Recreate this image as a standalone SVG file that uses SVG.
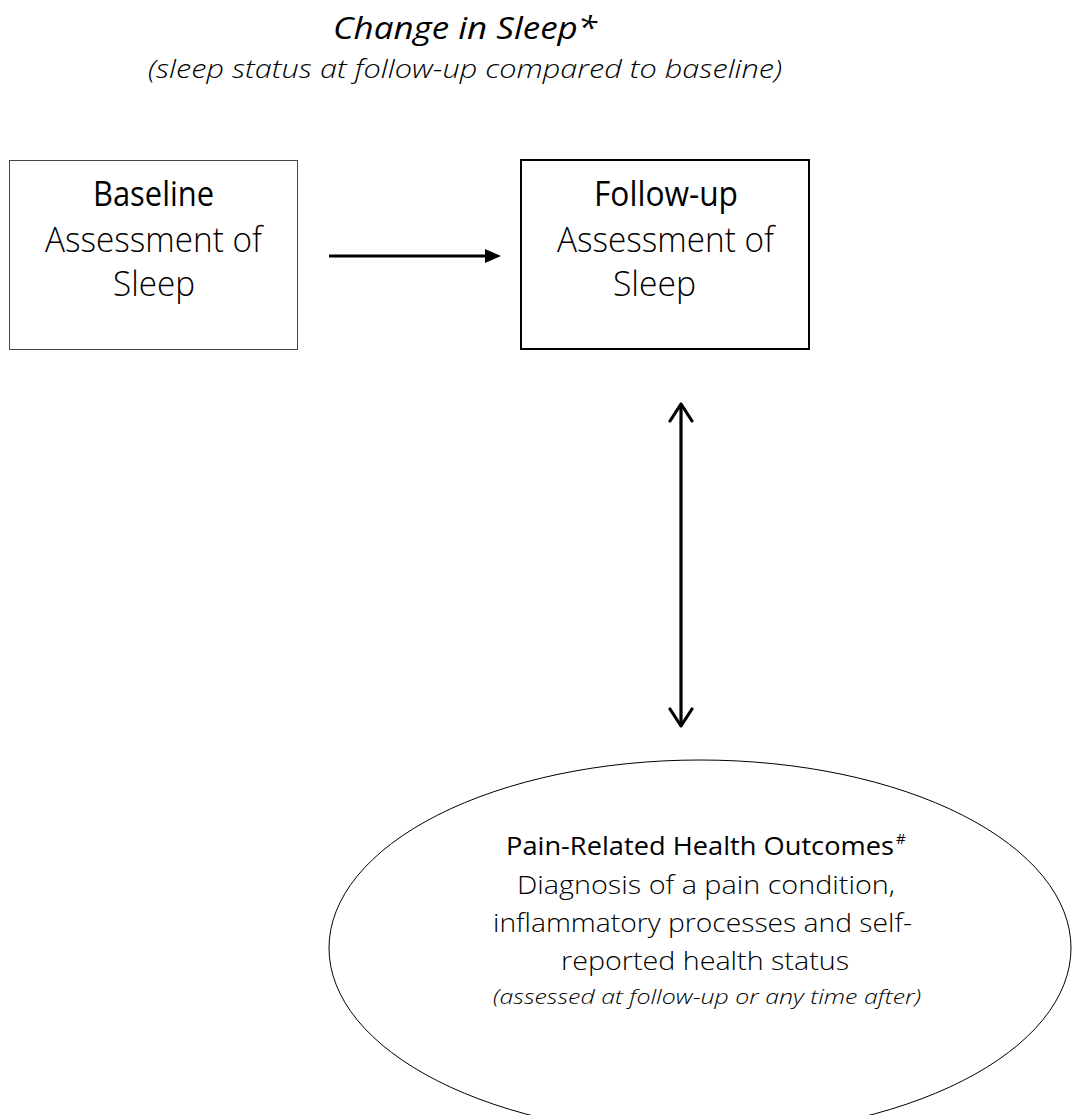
<svg xmlns="http://www.w3.org/2000/svg" width="1072" height="1115" viewBox="0 0 1072 1115">
<style>
  text { font-family: "Open Sans", "Liberation Sans", sans-serif; fill: #000; }
  .reg { font-weight: 400; }
  .light { font-weight: 300; }
  .it { font-style: italic; font-weight: 300; }
  .itreg { font-style: italic; font-weight: 400; }
  .box { font-size: 34px; }
  .ell { font-size: 26px; }
  .conn { stroke: #000; fill: none; }
</style>
<defs>
  <marker id="tri" viewBox="0 0 16 14" refX="1" refY="7" markerWidth="16" markerHeight="14" markerUnits="userSpaceOnUse" orient="auto">
    <path d="M0,0 L16,7 L0,14 Z" fill="#000"/>
  </marker>
  <marker id="chev" viewBox="0 0 26 26" refX="20" refY="13" markerWidth="26" markerHeight="26" markerUnits="userSpaceOnUse" orient="auto-start-reverse">
    <path d="M3,2 L20,13 L3,24" fill="none" stroke="#000" stroke-width="3.2" stroke-linecap="round" stroke-linejoin="round"/>
  </marker>
</defs>

<g id="title">
  <text class="itreg" x="333" y="39" font-size="31" textLength="264" lengthAdjust="spacingAndGlyphs">Change in Sleep*</text>
  <text class="it" x="148" y="78" font-size="25" textLength="634" lengthAdjust="spacingAndGlyphs">(sleep status at follow-up compared to baseline)</text>
</g>

<g id="baseline">
  <rect x="9.5" y="160.5" width="288" height="189" fill="#fff" stroke="#444" stroke-width="1"/>
  <text class="reg box" x="93" y="206" textLength="121" lengthAdjust="spacingAndGlyphs">Baseline</text>
  <text class="light box" x="45" y="252" textLength="217" lengthAdjust="spacingAndGlyphs">Assessment of</text>
  <text class="light box" x="113" y="296" textLength="82" lengthAdjust="spacingAndGlyphs">Sleep</text>
</g>

<g id="followup">
  <rect x="521" y="160" width="288" height="189" fill="#fff" stroke="#000" stroke-width="2"/>
  <text class="reg box" x="594" y="206" textLength="144" lengthAdjust="spacingAndGlyphs">Follow-up</text>
  <text class="light box" x="557" y="252" textLength="217" lengthAdjust="spacingAndGlyphs">Assessment of</text>
  <text class="light box" x="613" y="296" textLength="83" lengthAdjust="spacingAndGlyphs">Sleep</text>
</g>

<g id="outcomes">
  <ellipse cx="700" cy="948" rx="371" ry="188" fill="#fff" stroke="#000" stroke-width="1"/>
  <text class="reg" x="506" y="855" font-size="25" textLength="388" lengthAdjust="spacingAndGlyphs">Pain-Related Health Outcomes</text>
  <text class="reg" x="896" y="844" font-size="15">#</text>
  <text class="light ell" x="517" y="894" textLength="378" lengthAdjust="spacingAndGlyphs">Diagnosis of a pain condition,</text>
  <text class="light ell" x="493" y="932" textLength="419" lengthAdjust="spacingAndGlyphs">inflammatory processes and self-</text>
  <text class="light ell" x="561" y="970" textLength="288" lengthAdjust="spacingAndGlyphs">reported health status</text>
  <text class="it" x="493" y="1004" font-size="21" textLength="428" lengthAdjust="spacingAndGlyphs">(assessed at follow-up or any time after)</text>
</g>

<g id="connectors">
  <line class="conn" x1="329" y1="256" x2="486" y2="256" stroke-width="3" marker-end="url(#tri)"/>
  <line class="conn" x1="681" y1="404" x2="681" y2="726" stroke-width="3.2" marker-start="url(#chev)" marker-end="url(#chev)"/>
</g>
</svg>
